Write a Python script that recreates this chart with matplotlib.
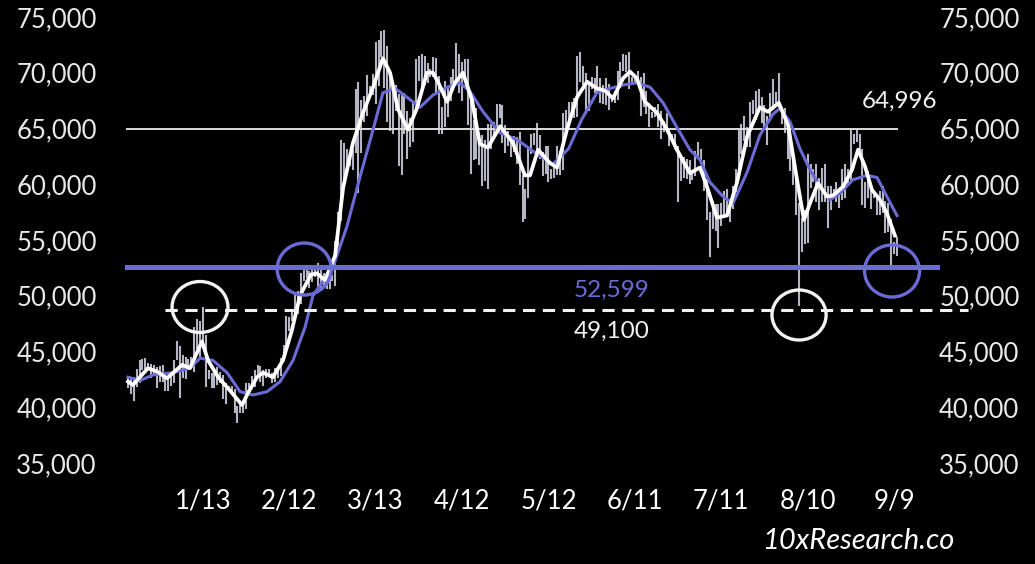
import numpy as np
import matplotlib
matplotlib.use("Agg")
import matplotlib.pyplot as plt
from matplotlib.patches import Ellipse

# daily candles, 2023-12-16 .. 2024-09-08 (thousands USD)
highs = [
    42.7, 42.6, 42.7, 43.4, 44.2, 44.3, 44.4, 44.0, 43.9, 43.8, 43.6, 43.7, 43.8, 43.1, 42.6, 42.9,
    44.2, 45.9, 45.5, 44.7, 44.5, 44.3, 44.5, 47.2, 47.9, 47.7, 49.0, 46.5, 43.3, 43.1, 43.4, 43.6,
    43.2, 42.9, 42.2, 41.9, 41.9, 41.6, 40.1, 40.5, 40.3, 42.2, 42.2, 42.8, 43.3, 43.8, 43.7,
    43.3, 43.4, 43.4, 43.1, 43.5, 43.4, 44.4, 45.6, 48.2, 48.1, 48.6, 50.3, 50.4, 52.0, 52.8, 52.5,
    52.2, 52.4, 52.5, 52.9, 52.4, 52.0, 51.5, 51.7, 51.9, 54.9, 57.5, 64.0, 63.7,
    63.2, 62.4, 63.2, 68.5, 69.2, 67.6, 67.9, 69.8, 68.8, 69.9, 72.8, 72.9, 73.7, 73.8, 72.4, 70.0,
    68.8, 68.9, 68.1, 68.0, 68.2, 66.6, 65.9, 67.5, 71.2, 71.5, 71.7, 71.5, 70.9, 70.3, 71.4,
    71.3, 69.7, 66.9, 69.3, 68.7, 69.6, 70.3, 72.7, 71.7, 71.0, 71.2, 71.2, 67.9, 65.8, 66.8, 64.4,
    64.4, 64.0, 65.4, 65.4, 65.6, 67.2, 67.2, 67.1, 65.3, 64.8, 63.9, 64.3, 64.2, 64.7,
    60.8, 59.6, 63.3, 64.5, 64.6, 65.5, 64.4, 62.9, 63.4, 63.4, 61.4, 61.8, 63.4, 63.0, 66.4, 66.7,
    67.4, 67.4, 67.7, 71.5, 71.9, 70.6, 70.0, 69.2, 69.6, 69.5, 70.6, 69.5, 68.9, 69.5, 69.0,
    67.9, 68.4, 70.2, 71.0, 71.7, 71.6, 71.9, 69.6, 69.8, 70.2, 69.6, 70.0, 68.4, 67.3, 66.5, 66.9,
    67.2, 66.6, 65.7, 66.4, 65.0, 64.5, 64.5, 63.4, 62.3, 62.4, 62.3, 62.2, 61.2, 63.0,
    63.8, 63.2, 62.2, 60.5, 57.5, 58.5, 58.2, 58.2, 58.3, 59.4, 59.6, 58.5, 59.8, 61.4, 64.9, 65.4,
    66.1, 65.1, 67.4, 67.6, 68.4, 68.5, 67.8, 67.1, 66.1, 68.2, 69.4, 68.3, 70.0, 66.9, 66.8,
    65.6, 65.0, 62.2, 61.1, 58.3, 57.0, 57.7, 62.7, 61.8, 61.4, 61.8, 60.6, 61.5, 61.8, 59.8, 59.8,
    59.6, 60.2, 59.6, 61.4, 61.8, 61.4, 64.9, 64.5, 65.0, 64.5, 63.2, 60.2, 61.2, 59.9, 59.4,
    59.0, 59.4, 59.8, 58.5, 58.3, 56.9, 54.8, 55.3,
]
lows = [
    41.7, 41.2, 40.6, 41.8, 42.2, 43.3, 43.4, 43.3, 42.6, 42.8, 41.7, 42.3, 42.3, 41.5, 41.5, 41.9,
    42.2, 44.2, 40.8, 42.6, 42.5, 43.4, 43.6, 43.2, 45.2, 44.3, 45.6, 41.8, 42.5, 41.7, 41.7, 42.0,
    42.2, 40.7, 40.3, 41.5, 41.5, 39.5, 38.6, 39.5, 39.5, 39.8, 41.7, 41.6, 41.8, 42.7, 42.3,
    41.9, 42.6, 42.9, 42.2, 42.3, 42.6, 42.8, 44.3, 45.3, 46.8, 47.7, 47.7, 48.4, 49.3, 51.3, 51.6,
    50.7, 51.2, 51.7, 50.6, 50.7, 50.9, 50.6, 50.6, 51.3, 50.9, 54.5, 56.7, 60.4,
    60.8, 61.6, 61.3, 62.8, 59.2, 62.8, 65.6, 66.1, 68.0, 68.0, 67.2, 68.8, 71.4, 68.6, 65.6, 64.8,
    64.5, 66.6, 61.6, 60.8, 64.5, 62.3, 63.3, 63.8, 66.6, 69.3, 68.4, 68.9, 69.1, 69.6, 69.6,
    68.2, 64.5, 64.5, 65.1, 66.0, 67.5, 69.1, 69.1, 68.2, 67.5, 69.6, 65.3, 60.9, 62.2, 62.3, 61.7,
    59.8, 60.3, 59.6, 63.2, 64.3, 64.5, 65.9, 63.7, 62.8, 63.4, 62.4, 62.9, 61.8, 59.9,
    56.6, 56.9, 58.8, 62.7, 63.5, 62.9, 62.3, 60.7, 60.9, 60.2, 60.5, 60.6, 60.8, 60.8, 61.3, 64.6,
    65.1, 66.7, 65.9, 66.0, 69.2, 68.9, 66.3, 66.6, 68.5, 68.2, 68.3, 67.3, 67.2, 67.1, 66.7,
    67.4, 67.3, 67.6, 68.6, 70.2, 70.1, 68.5, 69.2, 69.1, 69.2, 66.1, 66.9, 66.3, 65.1, 65.9, 66.0,
    65.1, 64.1, 64.7, 64.6, 63.4, 63.9, 63.2, 58.4, 60.3, 60.6, 60.5, 60.0, 60.4, 60.7,
    62.5, 61.8, 59.4, 56.8, 53.5, 56.0, 55.8, 54.3, 56.3, 57.2, 57.1, 56.6, 57.8, 59.3, 60.7, 62.7,
    63.9, 63.3, 63.3, 66.3, 65.8, 66.6, 65.5, 65.1, 63.5, 65.7, 66.7, 67.0, 66.6, 65.4, 64.6,
    62.3, 61.2, 59.9, 57.2, 49.1, 53.9, 54.6, 54.7, 59.7, 60.2, 58.4, 57.7, 58.4, 58.4, 56.1, 57.7,
    58.8, 58.4, 57.9, 58.6, 58.8, 59.8, 60.4, 63.6, 63.8, 62.8, 58.1, 57.9, 58.8, 57.8, 58.8,
    57.2, 57.2, 57.4, 55.6, 55.7, 52.6, 53.7, 53.6,
]

# fast average (white): day number, value (thousands)
white_day = [0, 1.7, 6.9, 10.1, 13.5, 18.8, 21.5, 25.7, 27.8, 31.3, 35.4, 39.6, 41.7, 44.8, 46.9,
             50.3, 53.8, 56.9, 59.7, 63.5, 65.6, 68.4, 71.9, 74.7, 78.1, 81.6, 85.1, 88.5, 91.0,
             93.8, 97.2, 100.3, 103.8, 105.9, 107.6, 110.8, 113.5, 116.3, 119.4, 122.2, 125.0,
             129.2, 133.7, 137.8, 139.6, 142.4, 146.5, 149.0, 152.4, 155.9, 159.4, 162.8, 165.6,
             168.4, 171.9, 174.3, 176.7, 179.5, 183.7, 187.2, 190.6, 195.1, 198.6, 201.0, 204.5,
             208.0, 211.5, 215.0, 219.4, 222.2, 226.0, 229.2, 232.3, 234.7, 236.8, 239.6, 242.7,
             244.8, 248.3, 251.4, 253.5, 255.9, 258.3, 261.1, 263.5, 266.3]
white_val = [42.3, 42.0, 43.5, 43.2, 42.6, 43.8, 43.5, 45.9, 44.2, 42.7, 41.5, 40.2, 41.3, 42.7, 43.1,
             42.7, 44.2, 46.9, 50.0, 51.9, 52.0, 51.4, 53.6, 59.7, 63.7, 66.4, 68.7, 71.3, 70.0,
             66.7, 64.9, 66.8, 70.0, 70.0, 69.2, 67.4, 69.1, 70.0, 67.6, 63.6, 63.3,
             65.2, 63.7, 60.8, 60.8, 63.1, 61.9, 61.5, 64.9, 67.8, 69.2, 68.6, 68.4,
             67.7, 69.5, 70.1, 69.5, 67.4, 66.4, 64.9, 63.1, 61.0, 61.5, 59.8, 57.0,
             57.2, 60.2, 64.3, 66.9, 66.5, 67.3, 65.3, 60.4, 56.8, 58.3, 60.1, 58.9,
             59.0, 59.8, 61.3, 63.1, 61.6, 59.5, 58.6, 57.4, 55.4]

# slow average (blue)
blue_day = [0, 4.2, 8.7, 15.6, 21.5, 25.0, 29.5, 34.4, 38.9, 43.4, 48.3, 52.8, 57.3, 61.5, 64.2,
            71.2, 76.0, 80.6, 85.1, 88.5, 92.7, 96.9, 101.4, 105.9, 110.8, 115.3, 118.8, 123.3,
            129.2, 135.1, 141.0, 147.5, 153.0, 157.5, 162.8, 167.4, 171.9, 176.7, 181.3, 185.8,
            190.6, 195.1, 198.6, 202.0, 206.6, 210.1, 215.0, 219.4, 224.0, 226.4, 229.9, 233.3,
            236.8, 240.3, 243.8, 247.2, 251.7, 256.6, 260.1, 263.5, 267.0]
blue_val = [42.7, 42.4, 42.9, 43.1, 43.5, 44.4, 44.2, 43.1, 41.4, 41.1, 41.4, 42.3, 44.2, 47.2, 50.0,
            52.6, 56.2, 60.7, 64.9, 68.2, 68.6, 67.8, 66.9, 68.0, 68.7, 69.1, 68.3, 66.5,
            64.6, 64.0, 62.9, 61.8, 63.2, 65.8, 68.2, 68.6, 68.9, 69.1, 68.7, 67.3,
            65.1, 63.1, 62.2, 60.2, 58.9, 58.3, 61.1, 64.4, 66.3, 66.8, 65.6, 63.2,
            61.3, 59.8, 58.6, 59.2, 60.4, 60.8, 60.6, 58.9, 57.2]

tick_days = [26, 56, 86, 116, 146, 176, 206, 236, 266]
tick_labels = ["1/13", "2/12", "3/13", "4/12", "5/12", "6/11", "7/11", "8/10", "9/9"]

resist = 64996
support = 52599
ath_level = 48750   # where the dashed 49,100 line sits on the chart
ath_text = "49,100"

# circles: (day, value, width in days, height in USD, colour)
WHITE = "#f2f2f2"
BLUE = "#6b6bd6"
circles = [(25.0, 48990, 19.4, 4574, WHITE), (61.2, 52398, 18.8, 4664, BLUE),
           (233.0, 48273, 18.8, 4485, WHITE), (265.3, 52219, 19.1, 4664, BLUE)]

plt.rcParams["font.family"] = ["Lato", "DejaVu Sans"]
fig = plt.figure(figsize=(10.35, 5.64), dpi=100, facecolor="black")
ax = fig.add_axes([110 / 1035, 1 - 463 / 564, 816 / 1035, 446 / 564], facecolor="black")

days = np.arange(len(highs))
ax.vlines(days, np.array(lows) * 1000, np.array(highs) * 1000, color="#d6d6e6", lw=1.5, alpha=0.85, zorder=2)

ax.plot([-0.4, 267], [resist, resist], color="#dcdcdc", lw=1.4, zorder=3, clip_on=False)
ax.plot(blue_day, np.array(blue_val) * 1000, color=BLUE, lw=2.2, zorder=4)
ax.plot(white_day, np.array(white_val) * 1000, color="white", lw=2.7, zorder=5)
ax.plot([-0.4, 281], [support, support], color=BLUE, lw=3.6, zorder=6, clip_on=False)
ax.plot([12.8, 291.7], [ath_level, ath_level], color=WHITE, lw=2.2, ls=(0, (4, 2.5)), zorder=6, clip_on=False)

for d, v, w, h, c in circles:
    ax.add_patch(Ellipse((d, v), w, h, fill=False, ec=c, lw=2.4, zorder=7, clip_on=False))

ax.text(268, 67470, f"{resist:,}", color=WHITE, fontsize=17.5, ha="center", va="center")
ax.text(168, 50515, f"{support:,}", color=BLUE, fontsize=17.5, ha="center", va="center")
ax.text(168, 46838, ath_text, color=WHITE, fontsize=17.5, ha="center", va="center")

ax.set_xlim((110 - 128) / 2.88, (926 - 128) / 2.88)
ax.set_ylim(35000, 75000)
ax.set_xticks(tick_days)
ax.set_xticklabels(tick_labels)
ax.set_yticks(range(35000, 75001, 5000))
ax.yaxis.set_major_formatter(matplotlib.ticker.StrMethodFormatter("{x:,.0f}"))
ax.tick_params(axis="y", length=0, labelsize=18.5, labelcolor="#e8e8e8", pad=9.5,
               labelleft=True, labelright=True)
ax.tick_params(axis="x", length=0, labelsize=18.5, labelcolor="white", pad=18)
for s in ax.spines.values():
    s.set_visible(False)

fig.text(858 / 1035, 1 - 541 / 564, "10xResearch.co", color="white", fontsize=21,
         style="italic", ha="center", va="center")

fig.savefig("out.png", dpi=100, facecolor="black")
